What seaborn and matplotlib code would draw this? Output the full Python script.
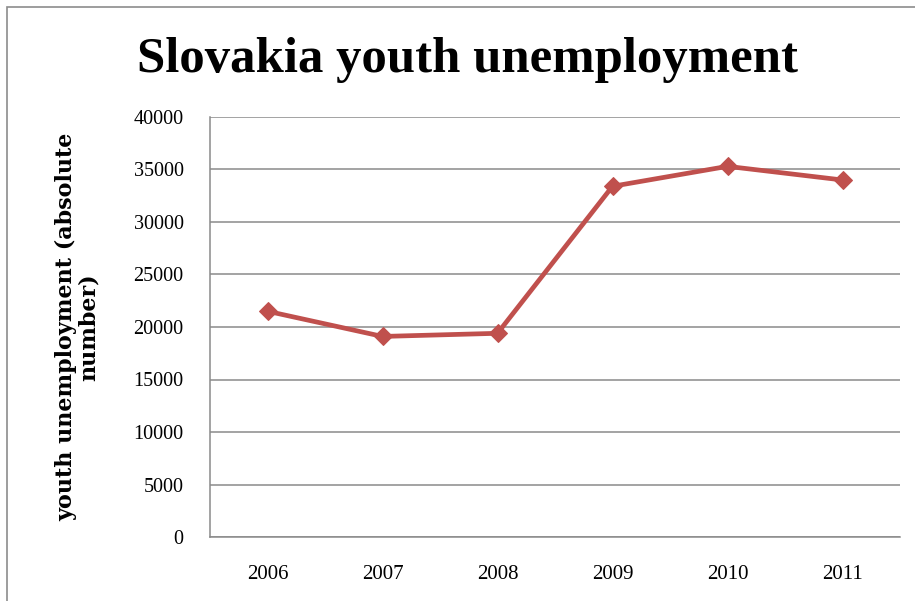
import matplotlib
matplotlib.use("Agg")
import matplotlib.pyplot as plt
import seaborn as sns
import pandas as pd
from matplotlib.patches import Rectangle

years = ["2006", "2007", "2008", "2009", "2010", "2011"]
unemployment = [21500, 19100, 19400, 33400, 35300, 34000]
y_ticks = [0, 5000, 10000, 15000, 20000, 25000, 30000, 35000, 40000]
title = "Slovakia youth unemployment"
y_label = "youth unemployment (absolute\nnumber)"

df = pd.DataFrame({"year": years, "value": unemployment})

sns.set_style("white")
plt.rcParams["font.family"] = ["Liberation Serif", "DejaVu Serif"]
plt.rcParams["text.color"] = "black"
plt.rcParams["axes.labelcolor"] = "black"
plt.rcParams["xtick.color"] = "black"
plt.rcParams["ytick.color"] = "black"

fig = plt.figure(figsize=(9.15, 6.01), dpi=100)
ax = fig.add_axes([210 / 915, 1 - 537 / 601, 690 / 915, 420 / 601])

# outer chart frame
fig.patches.append(Rectangle((7 / 915, -0.05), 1.2, 1 - 7 / 601 + 0.05,
                             transform=fig.transFigure, fill=False,
                             edgecolor="#8c8c8c", linewidth=1.2, zorder=0))

sns.lineplot(data=df, x="year", y="value", ax=ax, color="#C0504D",
             linewidth=3.4, marker="D", markersize=9.5,
             markeredgecolor="#C0504D", markerfacecolor="#C0504D", sort=False)

ax.set_xlim(-0.5, 5.5)
ax.set_ylim(0, 40000)
ax.set_yticks(y_ticks)
ax.set_yticklabels([str(v) for v in y_ticks])
ax.yaxis.grid(True, color="#8a8a8a", linewidth=1.1)
ax.xaxis.grid(False)
ax.set_axisbelow(True)
for side in ["top", "right"]:
    ax.spines[side].set_visible(False)
for side in ["left", "bottom"]:
    ax.spines[side].set_color("#8a8a8a")
    ax.spines[side].set_linewidth(1.1)

ax.tick_params(axis="y", length=0, pad=19, labelsize=14.5, labelcolor="black")
ax.tick_params(axis="x", length=0, pad=20, labelsize=15, labelcolor="black")

ax.set_xlabel("")
ax.set_ylabel(y_label, fontsize=16, fontweight="bold", linespacing=1.0,
              multialignment="center", family=["DejaVu Serif"], color="black")
ax.yaxis.set_label_coords(-0.160, 0.5)

fig.text(468 / 915, 1 - 60 / 601, title, ha="center", va="center",
         fontsize=36.5, fontweight="bold", color="black")

fig.savefig("out.png", dpi=100)
